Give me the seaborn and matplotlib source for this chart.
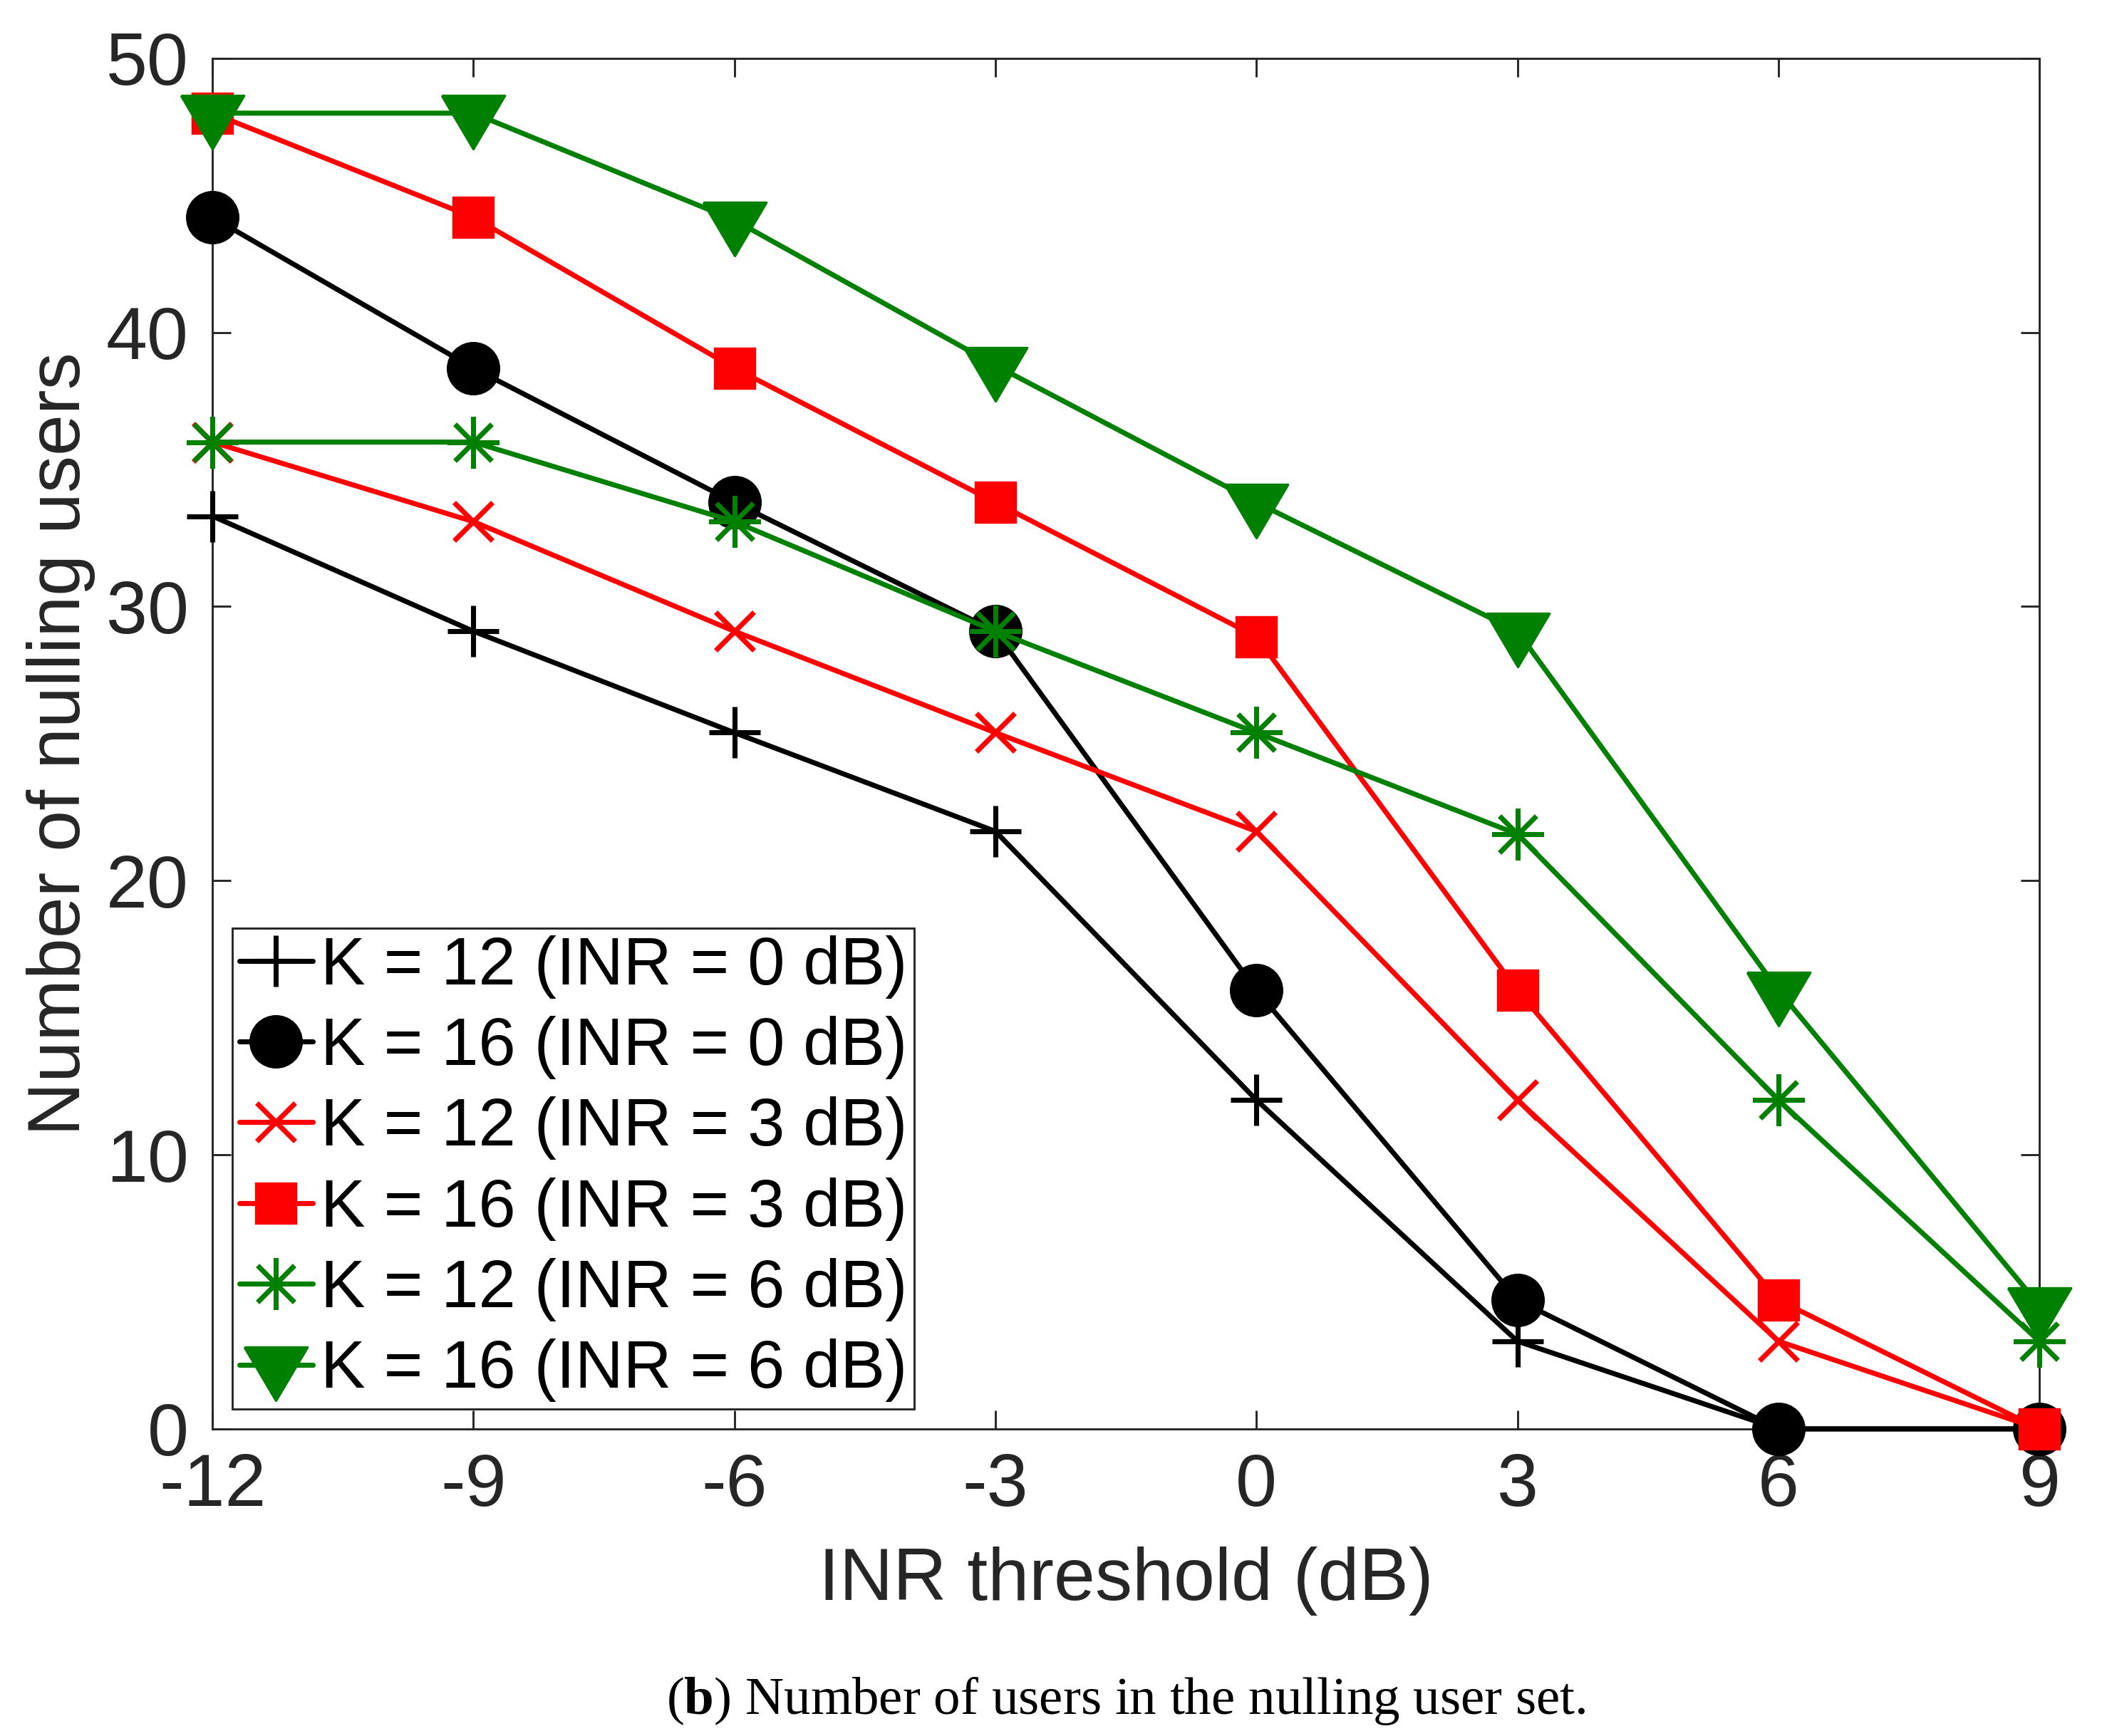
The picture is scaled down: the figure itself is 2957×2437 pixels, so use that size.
import matplotlib
matplotlib.use("Agg")
import matplotlib.pyplot as plt
import seaborn as sns

# values
inr_threshold = [-12, -9, -6, -3, 0, 3, 6, 9]
k12_inr0 = [33.3, 29.1, 25.4, 21.8, 12.0, 3.2, 0.0, 0.0]
k16_inr0 = [44.2, 38.7, 33.8, 29.1, 16.0, 4.7, 0.0, 0.0]
k12_inr3 = [36.0, 33.1, 29.1, 25.4, 21.8, 12.0, 3.2, 0.0]
k16_inr3 = [48.0, 44.2, 38.7, 33.8, 28.9, 16.0, 4.7, 0.0]
k12_inr6 = [36.0, 36.0, 33.1, 29.1, 25.4, 21.7, 12.0, 3.2]
k16_inr6 = [48.0, 48.0, 44.1, 38.8, 33.8, 29.1, 16.0, 4.5]

series = [k12_inr0, k16_inr0, k12_inr3, k16_inr3, k12_inr6, k16_inr6]
labels = ['K = 12 (INR = 0 dB)', 'K = 16 (INR = 0 dB)',
          'K = 12 (INR = 3 dB)', 'K = 16 (INR = 3 dB)',
          'K = 12 (INR = 6 dB)', 'K = 16 (INR = 6 dB)']
xticks = [-12, -9, -6, -3, 0, 3, 6, 9]
yticks = [0, 10, 20, 30, 40, 50]

sns.set_style("ticks")
plt.rcParams['font.family'] = ['Liberation Sans', 'DejaVu Sans']
plt.rcParams['axes.unicode_minus'] = False
plt.rcParams['mathtext.fontset'] = 'custom'
plt.rcParams['mathtext.rm'] = 'Liberation Serif'
plt.rcParams['mathtext.bf'] = 'Liberation Serif:bold'

# matlab style down triangle, centroid on the data point
tri_down = [(-1, 0.565), (1, 0.565), (0, -1.13), (-1, 0.565)]

styles = [
    dict(color='black', marker='+', markersize=17.5, markeredgewidth=1.7),
    dict(color='black', marker='o', markersize=17, markeredgewidth=1.0),
    dict(color='red', marker='x', markersize=13, markeredgewidth=1.7),
    dict(color='red', marker='s', markersize=13.4, markeredgewidth=0.8),
    dict(color='green', marker=(8, 2, 0), markersize=17.5, markeredgewidth=1.6),
    dict(color='green', marker=tri_down, markersize=24, markeredgewidth=0.8),
]

fig = plt.figure(figsize=(2957 / 300, 2437 / 300), dpi=300)
ax = fig.add_axes([0.1008, 0.1769, 0.8671, 0.7895])

for i in range(len(series)):
    st = styles[i]
    sns.lineplot(x=inr_threshold, y=series[i], ax=ax, label=labels[i],
                 estimator=None, errorbar=None, sort=False,
                 color=st['color'], marker=st['marker'],
                 markersize=st['markersize'], markeredgewidth=st['markeredgewidth'],
                 markeredgecolor=st['color'], markerfacecolor=st['color'],
                 linewidth=1.7, clip_on=False, zorder=3 + i)

ax.set_xlim(-12, 9)
ax.set_ylim(0, 50)
ax.set_xticks(xticks)
ax.set_yticks(yticks)

dark = '#262626'
for sp in ax.spines.values():
    sp.set_visible(True)
    sp.set_linewidth(0.7)
    sp.set_color(dark)
ax.tick_params(direction='in', length=6.3, width=0.7, top=True, right=True,
               labelsize=25, pad=8, colors=dark)

ax.set_xlabel('INR threshold (dB)', fontsize=25, color=dark, labelpad=8.3)
ax.set_ylabel('Number of nulling users', fontsize=25, color=dark, labelpad=3.5)

leg = ax.legend(loc='lower left', fontsize=22.5, frameon=True, fancybox=False,
                framealpha=1, edgecolor=dark, borderpad=0.1, labelspacing=0.26,
                handlelength=1.1, handletextpad=0.12, borderaxespad=0.3,
                numpoints=1, labelcolor='black')
leg.get_frame().set_linewidth(0.7)
leg.set_zorder(20)

fig.text(0.5343, 0.020, r"($\mathbf{b}$) Number of users in the nulling user set.",
         family='Liberation Serif', fontsize=18, ha='center', va='center',
         color='black')

fig.savefig('out.png', dpi=300)
